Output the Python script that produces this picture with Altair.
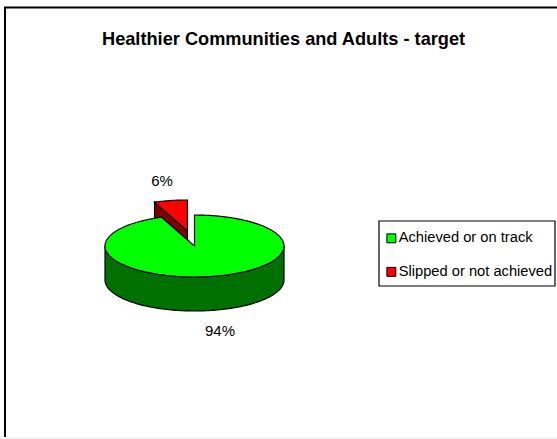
import math
import altair as alt

# Chart values
categories = ["Achieved or on track", "Slipped or not achieved"]
shares = [94, 6]
pct_labels = ["94%", "6%"]
top_colors = ["#00ff00", "#ff0000"]
side_colors = ["#007000", "#800000"]
FONT = "Liberation Sans"

# Pie geometry in unit-radius coordinates
TILT = 31 / 89.5
DEPTH = 34 / 89.5
EXPLODE = (-7 / 89.5, 15 / 89.5)


def pt(theta, off=(0, 0), drop=0):
    return [math.cos(theta) + off[0], TILT * math.sin(theta) + off[1] - drop]


def arc(a0, a1, n, off=(0, 0), drop=0):
    return [pt(a0 + (a1 - a0) * i / n, off, drop) for i in range(n + 1)]


# Slices run counter-clockwise from twelve o'clock; the small one comes first.
start = math.pi / 2
small_end = start + shares[1] / sum(shares) * 2 * math.pi
big_end = start + 2 * math.pi

big_top = [[0, 0]] + arc(small_end, big_end, 240) + [[0, 0]]
# Visible outer wall of the large slice: the front half of the rim.
big_side = arc(math.pi, 2 * math.pi, 120) + arc(2 * math.pi, math.pi, 120, drop=DEPTH)
big_side.append(big_side[0])

small_arc = arc(start, small_end, 20, EXPLODE)
small_top = [list(EXPLODE)] + small_arc + [list(EXPLODE)]
edge_end = small_arc[-1]
small_side = [
    list(EXPLODE),
    edge_end,
    [edge_end[0], edge_end[1] - DEPTH],
    [EXPLODE[0], EXPLODE[1] - DEPTH],
    list(EXPLODE),
]


def feature(ring, status):
    return {
        "type": "Feature",
        "properties": {"status": status},
        "geometry": {"type": "Polygon", "coordinates": [ring]},
    }


projection = alt.Projection(
    type="identity", scale=89.5, translate=[194.5, 246], reflectY=True
)


def solid(ring, status, color):
    return (
        alt.Chart(alt.Data(values=[feature(ring, status)]))
        .mark_geoshape(fill=color, stroke="black", strokeWidth=1.2)
        .project(**projection.to_dict())
    )


color_scale = alt.Scale(domain=categories, range=top_colors)


def top(ring, status):
    return (
        alt.Chart(alt.Data(values=[feature(ring, status)]))
        .mark_geoshape(stroke="black", strokeWidth=1.2)
        .encode(
            color=alt.Color(
                "properties.status:N",
                scale=color_scale,
                legend=alt.Legend(
                    title=None,
                    orient="none",
                    legendX=384,
                    legendY=231,
                    padding=0,
                    symbolType="square",
                    symbolSize=80,
                    symbolStrokeColor="black",
                    symbolStrokeWidth=1,
                    symbolOpacity=1,
                    labelFont=FONT,
                    labelFontSize=14.7,
                    labelColor="black",
                    labelLimit=220,
                    labelOffset=0,
                    rowPadding=17.5,
                ),
            )
        )
        .project(**projection.to_dict())
    )


layers = [
    solid(small_side, categories[1], side_colors[1]),
    top(small_top, categories[1]),
    solid(big_side, categories[0], side_colors[0]),
    top(big_top, categories[0]),
]

# Percentage labels beside each slice
labels = (
    alt.Chart(
        alt.Data(
            values=[
                {"label": pct_labels[0], "px": 220, "py": 331},
                {"label": pct_labels[1], "px": 162, "py": 181},
            ]
        )
    )
    .mark_text(font=FONT, fontSize=15, color="black")
    .encode(x=alt.X("px:Q", scale=None), y=alt.Y("py:Q", scale=None), text="label:N")
)

# Chart frame along the top and left edges, grey along the bottom
frame_top = alt.Chart(alt.Data(values=[{}])).mark_rule(color="black", strokeWidth=2).encode(
    x=alt.value(4), x2=alt.value(557), y=alt.value(7.5)
)
frame_left = alt.Chart(alt.Data(values=[{}])).mark_rule(color="black", strokeWidth=2).encode(
    x=alt.value(5), y=alt.value(7), y2=alt.value(437)
)
frame_bottom = alt.Chart(alt.Data(values=[{}])).mark_rule(color="#e4e4e4", strokeWidth=1).encode(
    x=alt.value(6), x2=alt.value(557), y=alt.value(438)
)
# Box behind the legend entries
legend_box = alt.Chart(alt.Data(values=[{}])).mark_rect(
    fill="white", stroke="black", strokeWidth=1.2
).encode(x=alt.value(379), x2=alt.value(555), y=alt.value(221), y2=alt.value(286))

chart = (
    alt.layer(frame_top, frame_left, frame_bottom, legend_box, *layers, labels)
    .properties(
        width=557,
        height=439,
        padding=0,
        autosize=alt.AutoSizeParams(type="none"),
        background="white",
        title=alt.TitleParams(
            "Healthier Communities and Adults - target",
            font=FONT,
            fontSize=18.2,
            fontWeight="bold",
            color="black",
            anchor="start",
            frame="group",
            dx=102,
            dy=23,
            offset=-26,
        ),
    )
    .configure_view(stroke=None)
)

chart.save("out.html", embed_options={"renderer": "svg", "actions": False})
